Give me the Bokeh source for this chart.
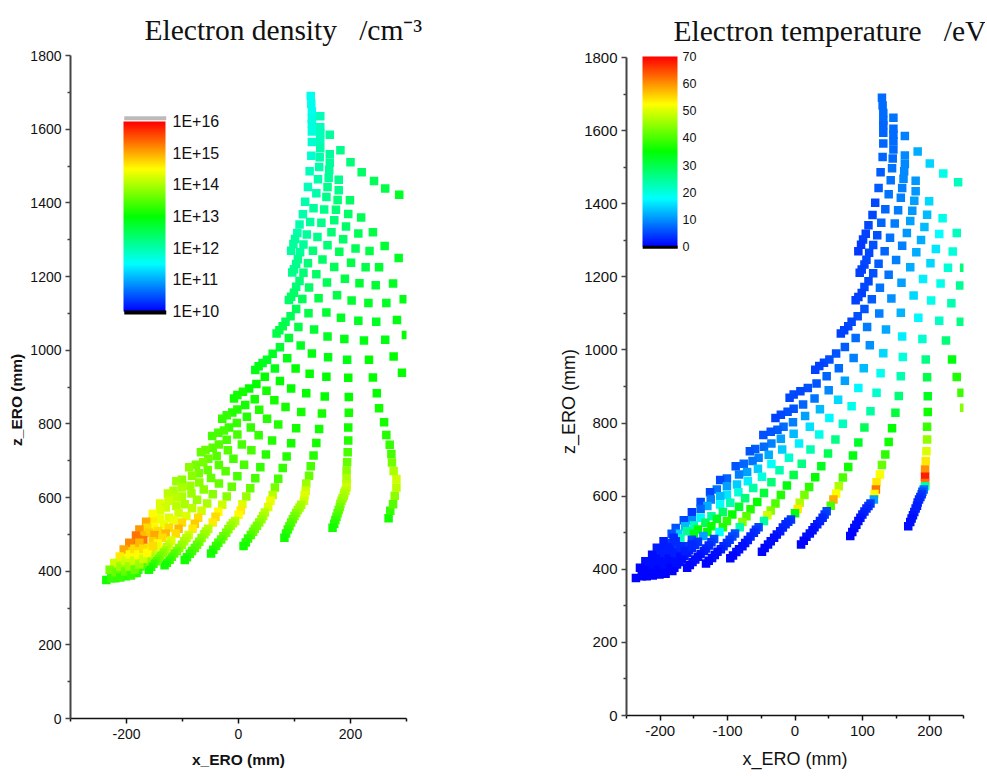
from bokeh.embed import file_html
from bokeh.resources import INLINE
from bokeh.plotting import figure
from bokeh.layouts import row, column
from bokeh.models import (ColumnDataSource, LinearColorMapper, ColorBar, FixedTicker,
                          BoxAnnotation)

# ---------- data: x_ERO (mm), z_ERO (mm), log10(ne), Te (eV), one group per mesh line ----------
a_x=[129,130,131,131,131,131,131,130,127,124,119,115,109,105,101,98,94]
a_z=[1690,1669,1648,1628,1615,1594,1565,1528,1486,1443,1403,1369,1341,1318,1302,1288,1270]
a_n=[11.6,11.6,11.6,11.7,11.7,11.7,11.8,11.8,11.9,11.9,12,12,12,12,12.1,12.1,12.1]
a_t=[7.5,7.5,7.5,7.5,7,7,7,7,6.5,6.5,5,5,5,4.5,4.5,4,4]
b_x=[146,146,146,146,146,145,144,142,139,134,128,122,116,110,106,103,99,96]
b_z=[1635,1605,1589,1571,1548,1524,1497,1464,1426,1385,1348,1314,1287,1266,1247,1234,1220,1211]
b_n=[11.9,11.9,11.9,11.9,12,12,12,12,12,12.1,12.1,12.1,12.1,12.1,12.2,12.2,12.2,12.2]
b_t=[8,7.5,7.5,7.5,7.5,7.5,8,8,8,7,7,5.5,5.5,5,5,5,4.5,4.5]
c_x=[163,163,163,162,161,159,157,153,148,141,133,124,116,109,103,99,94,90]
c_z=[1585,1532,1509,1489,1468,1443,1416,1382,1346,1307,1270,1236,1210,1188,1172,1156,1145,1136]
c_n=[12.1,12.1,12.1,12.1,12.1,12.2,12.2,12.2,12.2,12.2,12.3,12.3,12.3,12.3,12.3,12.4,12.4,12.4]
c_t=[9,9.5,9.5,9.5,9.5,9,9,8.5,8.5,8,7,6.5,5.5,5,5,4.5,4.5,4.5]
d_x=[182,179,179,177,174,171,166,159,150,139,126,114,103,93,84,79,73,68]
d_z=[1543,1463,1434,1408,1381,1353,1320,1285,1246,1206,1170,1139,1112,1092,1077,1065,1054,1045]
d_n=[12.2,12.2,12.2,12.3,12.3,12.3,12.3,12.3,12.4,12.4,12.4,12.5,12.5,12.5,12.5,12.6,12.6,12.6]
d_t=[12,10.5,10.5,11,10.5,11,10.5,9,9,8,8,6.5,6,5.5,5,5,4.5,4.5]
e_x=[200,199,196,192,187,180,171,158,143,125,107,90,74,61,51,43,36,30]
e_z=[1510,1407,1370,1336,1301,1267,1226,1184,1141,1100,1063,1033,1008,990,974,965,956,946]
e_n=[12.3,12.4,12.4,12.4,12.4,12.5,12.5,12.5,12.6,12.6,12.6,12.7,12.7,12.8,12.8,12.8,12.9,12.9]
e_t=[14.5,15,13,13,12,12,12,11,10,9,8.5,7.5,6.5,6,5.5,5,4.5,4.5]
f_x=[220,219,214,209,201,190,176,157,135,111,87,65,47,32,19,8,-2,-8]
f_z=[1483,1360,1317,1276,1237,1194,1149,1102,1056,1013,978,950,928,908,896,887,878,869]
f_n=[12.4,12.5,12.5,12.5,12.6,12.6,12.6,12.7,12.7,12.8,12.9,12.9,13,13,13,13.1,13.1,13.1]
f_t=[19,19,17.5,16,15,16.5,15,12.5,11.5,10,9,7.5,7,6,5.5,5,5,5]
g_x=[242,240,234,227,216,202,183,159,131,102,74,50,29,12,-2,-11,-21,-29]
g_z=[1459,1320,1269,1225,1182,1135,1088,1037,991,950,916,890,867,851,839,831,823,814]
g_n=[12.5,12.6,12.6,12.6,12.7,12.7,12.8,12.8,12.9,13,13,13.1,13.1,13.1,13.2,13.2,13.3,13.3]
g_t=[22,22,20,20.5,19,19,17,16.5,15,13,11,9.5,8,7,6,5.5,5,4.5]
h_x=[251,245,232,214,189,160,127,94,64,37,15,-3,-17,-26,-36,-47]
h_z=[1225,1176,1128,1080,1030,981,936,896,864,838,819,802,790,782,776,767]
h_n=[12.7,12.7,12.8,12.8,12.9,12.9,13,13,13.1,13.2,13.2,13.3,13.3,13.4,13.4,13.4]
h_t=[27,25,23,21.5,21,20,18.5,17,15,13,11,9,7.5,6.5,6,5.5]
i_x=[246,224,194,157,121,84,51,22,-2,-21,-35,-46,-59,-67]
i_z=[1077,1026,974,928,883,846,814,790,771,757,744,735,729,723]
i_n=[12.8,12.9,12.9,13,13,13.1,13.2,13.3,13.4,13.4,13.5,13.5,13.6,13.6]
i_t=[26,27,26,23,21,19,17,15.5,13,11,9,7.5,6.5,6]
j_x=[233,196,154,112,71,36,6,-19,-39,-54,-63,-76,-88]
j_z=[974,925,874,832,798,769,744,728,713,705,696,689,682]
j_n=[13,13,13,13.1,13.2,13.3,13.4,13.5,13.5,13.6,13.7,13.7,13.8]
j_t=[34,30,27,24,22,19,16.5,14,12,9,8,7,6]
k_x=[240,197,149,103,60,23,-9,-35,-55,-71,-83,-101,-111]
k_z=[926,873,828,788,755,728,705,688,675,666,659,648,644]
k_n=[13,13,13.1,13.1,13.2,13.4,13.4,13.5,13.6,13.7,13.8,13.8,13.9]
k_t=[37,33,31,29,26,23,21,18,14,11,9,7,5]
l_x=[247,197,144,94,49,10,-23,-49,-70,-86,-101,-116,-126]
l_z=[883,830,786,747,717,689,671,653,641,632,627,618,611]
l_n=[13,13.1,13.1,13.1,13.2,13.4,13.5,13.6,13.8,13.9,14,14,14.1]
l_t=[39,36,35,32,29,26,23,20,16.5,14,11,8,5]
m_x=[251,196,139,86,39,-2,-35,-62,-84,-101,-111,-125,-140]
m_z=[842,790,748,711,682,658,638,622,611,603,600,591,584]
m_n=[13.1,13.1,13.1,13.2,13.3,13.4,13.6,13.8,13.9,14,14.1,14.2,14.3]
m_t=[44,39,36,34,33,30,27,24,20,16,13,9,5]
n_x=[196,134,79,30,-12,-46,-74,-96,-111,-130,-140,-153]
n_z=[755,714,680,652,629,609,594,582,577,573,565,556]
n_n=[13.2,13.2,13.3,13.4,13.6,13.8,13.9,14,14.1,14.2,14.3,14.5]
n_t=[45,38,36,35,34,31,27,23,18,12,7,4]
o_x=[195,129,71,21,-21,-56,-83,-107,-124,-140,-153,-165]
o_z=[723,685,651,625,603,584,571,557,545,541,534,534]
o_n=[13.4,13.4,13.4,13.6,13.8,14,14.1,14.2,14.3,14.4,14.6,15]
o_t=[50,42,40,38,37,35,32,28,24,17,10,5]
p_x=[194,126,65,14,-29,-66,-93,-116,-133,-150,-163,-177]
p_z=[696,659,627,603,580,564,550,538,527,520,518,513]
p_n=[13.6,13.6,13.7,13.9,14.2,14.2,14.3,14.4,14.4,14.5,14.7,15.1]
p_t=[54,52,47,43,40,37,35,33,29,22,13,6]
q_x=[193,121,61,7,-36,-72,-101,-124,-144,-160,-173,-183]
q_z=[673,638,607,582,561,545,532,518,509,504,497,497]
q_n=[13.8,13.9,14.1,14.3,14.5,14.7,14.7,14.7,14.7,14.8,14.9,15.3]
q_t=[60,54,52,47,44,41,38,36,35,25,14,6]
r_x=[193,120,57,4,-41,-78,-107,-130,-150,-170]
r_z=[653,618,591,565,548,529,515,502,498,484]
r_n=[14,14.2,14.4,14.6,14.7,14.8,14.9,14.9,15,15.3]
r_t=[68,62,58,54,49,44,37,35,34,22]
s_x=[193,118,53,0,-46,-82,-112,-136,-153,-173]
s_z=[636,606,574,553,532,515,502,491,481,463]
s_n=[14.1,14.3,14.3,14.5,14.6,14.6,14.7,14.7,14.8,15.2]
s_t=[62,53,40,34,24,23,18,11,5,2]
# target legs (the strips are nearly solid in the reference)
l1_x=[193,191,189,188,186,184,182,181,179,177,175,173,171,168]
l1_z=[627,618,612,605,598,591,583,574,566,557,548,539,529,518]
l1_n=[14.2,14.1,14.05,14,13.95,13.9,13.8,13.7,13.6,13.5,13.4,13.3,13.2,13.1]
l1_t=[24,8,6,4,3.5,3,2.5,2,2,2,1.5,1,1,1]
l2_x=[117,112,109,106,103,100,97,94,91,88,85,82]
l2_z=[591,580,573,566,558,550,541,532,522,513,502,491]
l2_n=[14.2,14,13.95,13.9,13.8,13.7,13.6,13.5,13.4,13.3,13.2,13.1]
l2_t=[11,4,3.5,3,2.5,2,1.5,1,1,1,0.5,0.5]
l3_x=[47,44,41,37,33,29,26,22,17,13,9]
l3_z=[559,550,541,532,523,515,507,498,489,478,468]
l3_n=[14.1,14,13.9,13.8,13.7,13.65,13.6,13.45,13.3,13.2,13.1]
l3_t=[5,4,3,2.5,2,1.5,1,1,1,0.5,0.5]
l4_x=[-6,-10,-14,-18,-22,-27,-31,-36,-40,-45,-49]
l4_z=[536,530,523,514,504,495,486,477,468,458,448]
l4_n=[14.1,14,13.9,13.8,13.7,13.6,13.5,13.4,13.3,13.2,13.1]
l4_t=[4,3.5,3,2.5,2,1.5,1,1,1,0.5,0.5]
l5_x=[-54,-58,-61,-66,-70,-74,-78,-83,-87,-92,-96]
l5_z=[515,508,500,490,480,472,463,455,447,438,430]
l5_n=[14.1,14,13.9,13.8,13.7,13.6,13.5,13.4,13.3,13.2,13.1]
l5_t=[5,4,3,2.5,2,1.5,1,1,1,0.5,0.5]
l6_x=[-89,-93,-97,-101,-106,-110,-115,-119,-123,-128,-132]
l6_z=[498,490,481,472,463,455,448,439,431,423,416]
l6_n=[14.2,14.1,14,13.9,13.8,13.65,13.5,13.4,13.3,13.2,13.1]
l6_t=[6,5,4,3.5,3,2,1,1,1,0.5,0.5]
l7_x=[-120,-124,-128,-132,-135,-140,-144,-148,-152,-156,-160]
l7_z=[483,474,465,457,450,442,434,427,420,412,404]
l7_n=[14.3,14.2,14.1,13.95,13.8,13.7,13.6,13.45,13.3,13.2,13.1]
l7_t=[5,4,3,2.5,2,1.5,1,1,1,0.5,0.5]
l8_x=[-144,-148,-153,-157,-160,-164,-168,-172,-175,-179,-182]
l8_z=[475,467,459,452,445,436,427,420,413,404,395]
l8_n=[14.5,14.35,14.2,14.1,14,13.85,13.7,13.55,13.4,13.3,13.2]
l8_t=[4,3.5,3,2.5,2,1.5,1,1,1,0.5,0.5]
l9_x=[-161,-165,-170,-174,-178,-182,-185,-188,-192,-197,-201]
l9_z=[463,455,447,440,434,426,418,411,404,395,386]
l9_n=[14.6,14.45,14.3,14.2,14.1,13.95,13.8,13.65,13.5,13.35,13.2]
l9_t=[4,3.5,3,2.5,2,1.5,1,1,1,0.5,0.5]
l10_x=[-180,-184,-187,-191,-195,-199,-202,-206,-210,-215,-220]
l10_z=[454,447,440,434,427,420,413,406,399,390,381]
l10_n=[14.7,14.55,14.4,14.3,14.2,14.05,13.9,13.75,13.6,13.4,13.2]
l10_t=[4,3,2,2,2,1.5,1,1,1,0.5,0.5]
l11_x=[-187,-195,-202,-211,-220,-227,-236]
l11_z=[472,456,440,422,407,392,376]
l11_n=[15.2,14.8,14.5,14.1,13.8,13.5,13.1]
l11_t=[4,2,2,1,1,0.5,0.5]
l12_x=[-180,-195,-205,-212,-222,-230]
l12_z=[486,477,459,440,422,404]
l12_n=[15.3,15.2,15,14.6,14.2,13.7]
l12_t=[3,2,2,1,1,0.5]
# extra marks in the solid lower-left wedge
w1_x=[-227,-219,-211,-202,-194,-186,-177]
w1_z=[381,397,413,429,445,461,477]
w1_n=[13.3,13.6,13.9,14.2,14.5,14.7,14.9]
w1_t=[0.5,0.5,1,1,2,2,3]
w2_x=[-211,-202,-195,-187,-179,-170]
w2_z=[383,399,413,429,445,461]
w2_n=[13.3,13.6,13.9,14.2,14.5,14.7]
w2_t=[0.5,0.5,1,1,2,3]
w3_x=[-192,-185,-177,-170,-163,-153]
w3_z=[388,404,418,434,449,468]
w3_n=[13.3,13.6,13.9,14.2,14.5,14.7]
w3_t=[0.5,0.5,1,1,2,3]
# outermost line, only inside the left panel's range
u_x=[268,271,276,279,282,282,277,274,273,270,264,260]
u_z=[544,564,582,605,627,650,672,695,718,743,770,804]
u_n=[13.1,13.3,13.5,13.8,14.1,14.2,14,13.7,13.4,13.3,13.2,13.1]
u_t=[1,2,3,30,60,65,55,50,47,45,44,43]
v_x=[262,287,261,286,276,295,264,283,299,262,277,292]
v_z=[1439,1422,1283,1250,1181,1138,1128,1082,1041,1028,983,939]
v_n=[12.6,12.8,12.7,12.8,12.8,12.9,12.8,12.9,13,12.9,13,13]
v_t=[26,28,27,28,29,30,28,30,32,30,33,36]

groups = "a b c d e f g h i j k l m n o p q r s l1 l2 l3 l4 l5 l6 l7 l8 l9 l10 l11 l12 w1 w2 w3 u v".split()
x_ero, z_ero, log_ne, te_ev = [], [], [], []
for g_name in groups:
    gx, gz, gn, gt = (globals()[f"{g_name}_{s_}"] for s_ in "xznt")
    assert len(gx) == len(gz) == len(gn) == len(gt), g_name
    x_ero += gx; z_ero += gz; log_ne += gn; te_ev += gt

density_ticks = [10, 11, 12, 13, 14, 15, 16]
density_labels = {t: f"1E+{t}" for t in density_ticks}
temperature_ticks = [0, 10, 20, 30, 40, 50, 60, 70]
hyphen_labels = {-200: "-200", -100: "-100"}

# ---------- colours ----------
ANCHORS = [(0, 0, 255), (0, 255, 255), (0, 255, 0), (255, 255, 0), (255, 0, 0)]
def rainbow(n=256):
    out = []
    for i in range(n):
        t = i / (n - 1) * 4
        k = min(int(t), 3); f = t - k
        c = [round(ANCHORS[k][j] + (ANCHORS[k + 1][j] - ANCHORS[k][j]) * f) for j in range(3)]
        out.append("#%02x%02x%02x" % tuple(c))
    return out
PAL = rainbow()
SANS = "Liberation Sans"
SERIF = "Liberation Serif"
src = ColumnDataSource(dict(x=x_ero, z=z_ero, ne=log_ne, te=te_ev))
NB = "\u00a0"


def panel(x_range, frame_w, frame_h, left, right, top, bottom, x_ticks, x_minor, label_style, label_size, tick_size,
          field, mapper, title, title_x, title_standoff, xstand, ystand, label_pad):
    p = figure(width=left + frame_w + right, height=top + frame_h + bottom, frame_width=frame_w, frame_height=frame_h,
               x_range=x_range, y_range=(0, 1800), output_backend="svg", toolbar_location=None,
               min_border_left=left, min_border_right=right, min_border_top=top, min_border_bottom=bottom)
    p.outline_line_color = None
    p.grid.visible = False
    p.background_fill_color = "white"
    p.scatter(x="x", y="z", source=src, marker="square", size=8.5, line_color=None,
              fill_color={"field": field, "transform": mapper})
    p.xaxis.ticker = FixedTicker(ticks=x_ticks, minor_ticks=x_minor)
    p.xaxis.major_label_overrides = hyphen_labels
    p.yaxis.ticker = FixedTicker(ticks=list(range(0, 1801, 200)), minor_ticks=list(range(100, 1800, 200)))
    for ax, c, w in ((p.xaxis, "#111111", 1.5), (p.yaxis, "#444444", 2)):
        ax.axis_line_color = c; ax.axis_line_width = w
        ax.major_tick_line_color = c; ax.minor_tick_line_color = c
        ax.major_tick_line_width = 1.5; ax.minor_tick_line_width = 1.5
        ax.major_tick_out = 5; ax.major_tick_in = 0; ax.minor_tick_out = 3; ax.minor_tick_in = 0
        ax.major_label_text_font = SANS; ax.major_label_text_font_size = tick_size
        ax.major_label_text_color = "#111111"
        ax.axis_label_text_font = SANS; ax.axis_label_text_font_size = label_size
        ax.axis_label_text_font_style = label_style; ax.axis_label_text_color = "#111111"
    p.xaxis.major_label_standoff = 5
    p.yaxis.major_label_standoff = 4
    p.xaxis.axis_label = "x_ERO (mm)"
    p.yaxis.axis_label = "z_ERO (mm)" + NB * label_pad
    p.xaxis.axis_label_standoff = xstand
    p.yaxis.axis_label_standoff = ystand
    p.title.text = title
    p.title.text_font = SERIF
    p.title.text_font_style = "normal"
    p.title.text_font_size = "29.5px"
    p.title.text_color = "#111111"
    p.title.align = "left"
    p.title.offset = title_x
    p.title.standoff = title_standoff
    return p


ne_mapper = LinearColorMapper(palette=PAL, low=10, high=16)
te_mapper = LinearColorMapper(palette=PAL, low=0, high=70)

p1 = panel((-300, 300), 336, 663, 70, 94, 55, 55, [-200, 0, 200], [-300, -100, 100, 300], "bold", "15.5px", "14px",
           "ne", ne_mapper, f"Electron density{NB}{NB}{NB}/cm\u207b\u00b3", 74, 20, 9, 2, 6)
p2 = panel((-250, 250), 337, 658, 126, 22, 57, 58, [-200, -100, 0, 100, 200], [-250, -150, -50, 50, 150, 250],
           "normal", "18px", "15px", "te", te_mapper, f"Electron temperature{NB}{NB}{NB}/eV", 47, 22, 10, 2, 6)

cb1 = ColorBar(color_mapper=ne_mapper, ticker=FixedTicker(ticks=density_ticks), major_label_overrides=density_labels,
               location=(53, 407), width=42, height=190, padding=0, margin=0, major_tick_line_color=None,
               minor_tick_line_color=None, bar_line_color=None, label_standoff=7, border_line_color=None,
               background_fill_color=None, major_label_text_font=SANS, major_label_text_font_size="16px",
               major_label_text_color="#111111")
p1.add_layout(cb1)
cb2 = ColorBar(color_mapper=te_mapper, ticker=FixedTicker(ticks=temperature_ticks),
               location=(16, 469), width=35, height=190, padding=0, margin=0, major_tick_line_color=None,
               minor_tick_line_color=None, bar_line_color=None, label_standoff=5, border_line_color=None,
               background_fill_color=None, major_label_text_font=SANS, major_label_text_font_size="12.5px",
               major_label_text_color="#111111")
p2.add_layout(cb2)

# over-range (grey) and under-range (black) caps of the colour scales, in data units of each panel
p1.add_layout(BoxAnnotation(left=-204, right=-129, bottom=1624, top=1635, fill_color="#bbbbbb", fill_alpha=1, line_color=None))
p1.add_layout(BoxAnnotation(left=-204, right=-129, bottom=1097, top=1108, fill_color="black", fill_alpha=1, line_color=None))
p2.add_layout(BoxAnnotation(left=-226, right=-174, bottom=1805, top=1813, fill_color="#bbbbbb", fill_alpha=1, line_color=None))
p2.add_layout(BoxAnnotation(left=-226, right=-174, bottom=1277, top=1285, fill_color="black", fill_alpha=1, line_color=None))

layout = row(column(p1), column(p2), spacing=0)
open("out.html", "w").write(file_html(layout, INLINE))
